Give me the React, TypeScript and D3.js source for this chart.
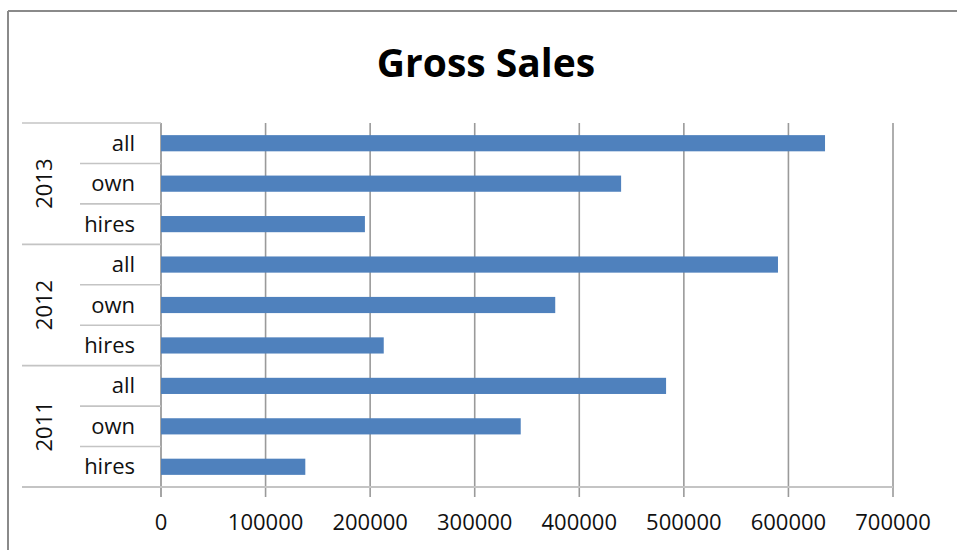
import React from 'react';
import * as d3 from 'd3';

const years = ['2013', '2012', '2011'];
const subs = ['all', 'own', 'hires'];
const values2013 = [635000, 440000, 195000];
const values2012 = [590000, 377000, 213000];
const values2011 = [483000, 344000, 138000];
const xTicks = [0, 100000, 200000, 300000, 400000, 500000, 600000, 700000];
const title = 'Gross Sales';

const seriesByYear: Record<string, number[]> = {
  '2013': values2013,
  '2012': values2012,
  '2011': values2011,
};

export default function App() {
  const W = 957, H = 550;
  const left = 161, right = 893, top = 123, bottom = 487;
  const x = d3.scaleLinear().domain([0, 700000]).range([left, right]);
  const rows = years.flatMap((yr) => subs.map((s, i) => ({ key: yr + '-' + s, year: yr, sub: s, value: seriesByYear[yr][i], idx: i })));
  const y = d3.scaleBand<string>().domain(rows.map((r) => r.key)).range([top, bottom]).paddingInner(0).paddingOuter(0);
  const bw = y.bandwidth();
  const barH = bw * 0.4;
  const font = "'Open Sans', sans-serif";
  const groupH = bw * subs.length;

  return (
    <svg width={W} height={H} style={{ position: 'absolute', left: 0, top: 0, display: 'block', background: '#fff' }}>
      <rect x={0} y={0} width={W} height={H} fill="#fff" />
      {/* border */}
      <line x1={8} y1={11} x2={W + 5} y2={11} stroke="#8a8a8a" strokeWidth={2} />
      <line x1={8} y1={11} x2={8} y2={H + 5} stroke="#8a8a8a" strokeWidth={2} />
      <text x={486} y={77} textAnchor="middle" fontFamily={font} fontWeight={700} fontSize={39} fill="#000">{title}</text>

      {/* gridlines */}
      {xTicks.map((t) => (
        <line key={'g' + t} x1={x(t)} x2={x(t)} y1={top} y2={bottom + 10} stroke={t === 0 ? '#8f8f8f' : '#9a9a9a'} strokeWidth={1.6} />
      ))}

      {/* category separators */}
      {rows.map((r) => (
        <line key={'s' + r.key} x1={r.idx === 0 ? 22 : 80} x2={left} y1={y(r.key)!} y2={y(r.key)!} stroke="#c4c4c4" strokeWidth={1.6} />
      ))}
      <line x1={22} x2={right} y1={bottom} y2={bottom} stroke="#c4c4c4" strokeWidth={1.8} />

      {/* bars */}
      {rows.map((r) => (
        <rect key={'b' + r.key} x={x(0)} y={y(r.key)! + (bw - barH) / 2} width={x(r.value) - x(0)} height={barH} fill="#4f81bd" />
      ))}

      {/* sub labels */}
      {rows.map((r) => (
        <text key={'l' + r.key} x={135} y={y(r.key)! + bw / 2 + 7.5} textAnchor="end" fontFamily={font} fontSize={22} fill="#111">{r.sub}</text>
      ))}

      {/* year labels */}
      {years.map((yr, gi) => {
        const cy = top + gi * groupH + groupH / 2;
        return (
          <text key={'y' + yr} transform={`translate(52,${cy}) rotate(-90)`} textAnchor="middle" fontFamily={font} fontSize={22} fill="#111">{yr}</text>
        );
      })}

      {/* x tick labels */}
      {xTicks.map((t) => (
        <text key={'t' + t} x={x(t)} y={530} textAnchor="middle" fontFamily={font} fontSize={22} fill="#111">{String(t)}</text>
      ))}
    </svg>
  );
}
